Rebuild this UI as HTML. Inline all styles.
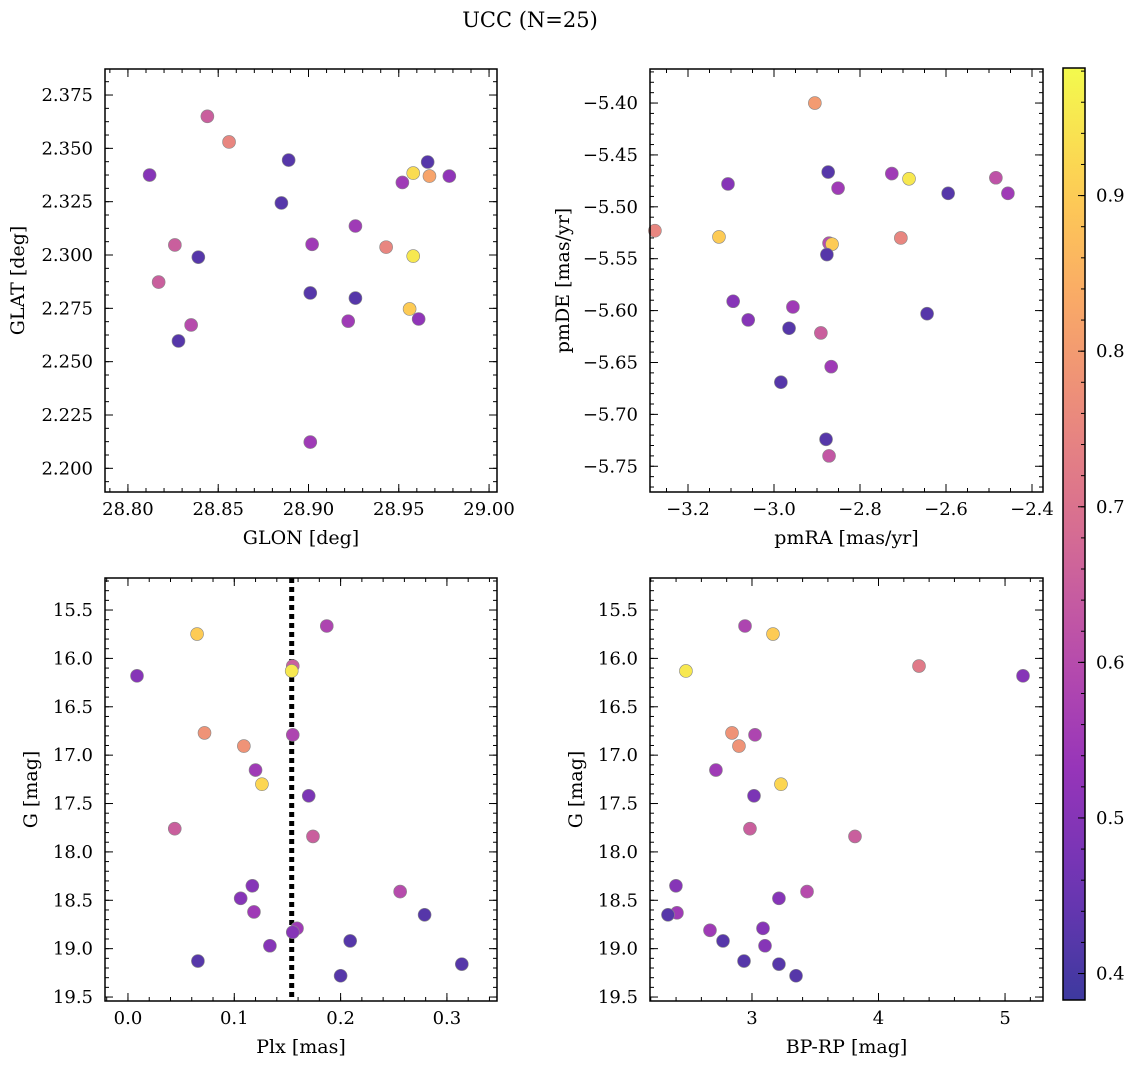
<!DOCTYPE html>
<html><head><meta charset="utf-8"><style>
html,body{margin:0;padding:0;background:#fff;}
svg{display:block;font-family:"DejaVu Serif","Liberation Serif",serif;}
</style></head><body>
<svg id="fig" width="1136" height="1068" viewBox="0 0 1136 1068" xmlns="http://www.w3.org/2000/svg">
<rect width="1136" height="1068" fill="#fff"/>
<text x="530" y="27" font-size="21" text-anchor="middle">UCC (N=25)</text>
</svg>
<script>
// ---- data ----
const glon=[28.844,28.856,28.812,28.889,28.885,28.966,28.958,28.967,28.978,28.952,28.926,28.902,28.826,28.943,28.839,28.958,28.817,28.901,28.926,28.956,28.961,28.922,28.835,28.828,28.901];
const glat=[2.365,2.353,2.3375,2.3445,2.3244,2.3436,2.3384,2.337,2.337,2.334,2.3136,2.305,2.3047,2.3037,2.299,2.2995,2.2873,2.2822,2.2798,2.2747,2.27,2.269,2.2672,2.2597,2.2123];
const probTL=[0.65,0.75,0.5,0.42,0.42,0.42,0.93,0.82,0.52,0.55,0.55,0.55,0.65,0.75,0.42,0.95,0.65,0.42,0.42,0.9,0.52,0.55,0.6,0.42,0.55];
const pmra=[-2.905,-2.874,-3.107,-2.851,-2.726,-2.686,-2.595,-2.484,-2.456,-3.277,-3.128,-2.705,-2.872,-2.865,-2.877,-3.095,-2.956,-3.060,-2.965,-2.644,-2.891,-2.867,-2.984,-2.879,-2.872];
const pmde=[-5.400,-5.4665,-5.478,-5.482,-5.468,-5.473,-5.487,-5.472,-5.487,-5.523,-5.529,-5.530,-5.535,-5.536,-5.546,-5.591,-5.5965,-5.609,-5.617,-5.603,-5.6215,-5.654,-5.669,-5.724,-5.740];
const probTR=[0.8,0.42,0.5,0.55,0.55,0.95,0.42,0.62,0.55,0.75,0.9,0.75,0.6,0.9,0.42,0.5,0.55,0.5,0.42,0.42,0.65,0.55,0.42,0.42,0.63];
const plx=[0.187,0.065,0.155,0.154,0.0085,0.155,0.072,0.109,0.120,0.126,0.170,0.044,0.174,0.117,0.256,0.106,0.1185,0.279,0.159,0.155,0.209,0.1335,0.0658,0.314,0.200];
const gBL=[15.665,15.748,16.079,16.13,16.18,16.79,16.77,16.906,17.154,17.30,17.42,17.76,17.84,18.35,18.41,18.48,18.62,18.65,18.79,18.83,18.92,18.97,19.128,19.16,19.28];
const probBL=[0.58,0.9,0.65,0.95,0.5,0.58,0.78,0.78,0.55,0.92,0.48,0.65,0.65,0.5,0.6,0.5,0.55,0.42,0.55,0.5,0.42,0.5,0.42,0.42,0.42];
const bprp=[2.945,3.166,2.478,4.320,5.142,2.842,3.024,2.897,2.715,3.229,3.016,2.984,3.814,2.399,3.213,3.435,2.407,2.336,2.668,3.087,2.771,3.103,2.937,3.213,3.348];
const gBR=[15.665,15.748,16.13,16.079,16.18,16.77,16.79,16.906,17.154,17.30,17.42,17.76,17.84,18.35,18.48,18.41,18.63,18.65,18.81,18.79,18.92,18.97,19.128,19.16,19.28];
const probBR=[0.58,0.9,0.95,0.72,0.5,0.78,0.58,0.78,0.55,0.92,0.48,0.65,0.65,0.5,0.5,0.6,0.55,0.42,0.55,0.5,0.42,0.5,0.42,0.42,0.42];
const plxLine=0.154;
const cbTicks=[0.4,0.5,0.6,0.7,0.8,0.9];

const NS="http://www.w3.org/2000/svg";
const svg=document.getElementById('fig');
function el(tag,attrs,parent){const e=document.createElementNS(NS,tag);for(const k in attrs)e.setAttribute(k,attrs[k]);(parent||svg).appendChild(e);return e;}
const stops=[[0,13,8,135],[0.125,75,3,161],[0.25,125,3,168],[0.375,168,34,150],[0.5,203,71,120],[0.625,229,107,93],[0.75,248,148,65],[0.875,253,195,40],[1,240,249,33]];
const cmin=0.383,cmax=0.982;
const ALPHA=0.8;
function plasma(v){let t=(v-cmin)/(cmax-cmin);t=Math.max(0,Math.min(1,t));
 let r=240,g=249,b=33;
 for(let i=1;i<stops.length;i++){if(t<=stops[i][0]){const a=stops[i-1],c=stops[i];const f=(t-a[0])/(c[0]-a[0]);
 r=a[1]+f*(c[1]-a[1]);g=a[2]+f*(c[2]-a[2]);b=a[3]+f*(c[3]-a[3]);break;}}
 const m=x=>Math.round(x*ALPHA+255*(1-ALPHA));
 return `rgb(${m(r)},${m(g)},${m(b)})`;}

function panel(o){
 const g=el('g',{}, svg);
 
 
 const sx=v=>o.x0+(v-o.xmin)/(o.xmax-o.xmin)*(o.x1-o.x0);
 const sy=v=>o.y0+(o.ymax-v)/(o.ymax-o.ymin)*(o.y1-o.y0);
 const eps=1e-9;
 function ticks(min,max,step){const r=[];for(let v=Math.ceil(min/step-eps)*step;v<=max+eps;v+=step)r.push(+v.toFixed(6));return r;}
 const tg=el('g',{stroke:'#000','stroke-width':1},g);
 for(const v of ticks(o.xmin,o.xmax,o.xminor)){const x=sx(v);el('line',{x1:x,x2:x,y1:o.y1,y2:o.y1-4},tg);el('line',{x1:x,x2:x,y1:o.y0,y2:o.y0+4},tg);}
 for(const v of ticks(o.ymin,o.ymax,o.yminor)){const y=sy(v);el('line',{x1:o.x0,x2:o.x0+4,y1:y,y2:y},tg);el('line',{x1:o.x1,x2:o.x1-4,y1:y,y2:y},tg);}
 for(const v of ticks(o.xmin,o.xmax,o.xmajor)){const x=sx(v);el('line',{x1:x,x2:x,y1:o.y1,y2:o.y1-8},tg);el('line',{x1:x,x2:x,y1:o.y0,y2:o.y0+8},tg);
  const t=el('text',{x:x,y:o.y1+23,'font-size':18,'text-anchor':'middle'},g);t.textContent=v.toFixed(o.xdec).replace('-','\u2212');
  
  }
 for(const v of ticks(o.ymin,o.ymax,o.ymajor)){const y=sy(v);el('line',{x1:o.x0,x2:o.x0+8,y1:y,y2:y},tg);el('line',{x1:o.x1,x2:o.x1-8,y1:y,y2:y},tg);
  const t=el('text',{x:o.x0-12,y:y+6,'font-size':18,'text-anchor':'end'},g);t.textContent=(o.neg?Math.abs(v):v).toFixed(o.ydec).replace('-','\u2212');
  
  }
 if(o.vline!==undefined){const l=el('line',{x1:sx(o.vline),x2:sx(o.vline),y1:o.y0,y2:o.y1,stroke:'#000','stroke-width':5,'stroke-dasharray':'5,4'},g);
  
  }
 for(let i=0;i<o.xs.length;i++){const c=el('circle',{cx:sx(o.xs[i]),cy:sy(o.ys[i]),r:6.5,fill:plasma(o.cs[i]),stroke:'#888','stroke-width':0.6},g);
  
  }
 const fr=el('rect',{x:o.x0,y:o.y0,width:o.x1-o.x0,height:o.y1-o.y0,fill:'none',stroke:'#000','stroke-width':1.5},g);
 
 
 const xl=el('text',{x:(o.x0+o.x1)/2,y:o.y1+52,'font-size':19,'text-anchor':'middle'},g);xl.textContent=o.xlabel;
 
 
 const yx=o.ylx, yy=(o.y0+o.y1)/2;
 const yl=el('text',{x:yx,y:yy,'font-size':19,'text-anchor':'middle',transform:`rotate(-90 ${yx} ${yy})`},g);yl.textContent=o.ylabel;
 
 
}
panel({name:'glon-glat-panel',x0:105,x1:497,y0:69,y1:492,xmin:28.7873,xmax:29.0044,ymin:2.1889,ymax:2.3872,xmajor:0.05,xminor:0.01,ymajor:0.025,yminor:0.00625,xdec:2,ydec:3,xs:glon,ys:glat,cs:probTL,xlabel:'GLON [deg]',ylabel:'GLAT [deg]',ylx:24});
panel({name:'pm-panel',x0:650,x1:1043,y0:69,y1:492,xmin:-3.2884,xmax:-2.3744,ymin:-5.7748,ymax:-5.3672,xmajor:0.2,xminor:0.05,ymajor:0.05,yminor:0.01,xdec:1,ydec:2,xs:pmra,ys:pmde,cs:probTR,xlabel:'pmRA [mas/yr]',ylabel:'pmDE [mas/yr]',ylx:569});
panel({name:'plx-g-panel',x0:105,x1:497,y0:578,y1:1001,xmin:-0.0216,xmax:0.3471,ymin:-19.541,ymax:-15.169,xmajor:0.1,xminor:0.02,ymajor:0.5,yminor:0.1,xdec:1,ydec:1,neg:true,xs:plx,ys:gBL.map(v=>-v),cs:probBL,xlabel:'Plx [mas]',ylabel:'G [mag]',ylx:37,vline:plxLine});
panel({name:'cmd-panel',x0:650,x1:1043,y0:578,y1:1001,xmin:2.194,xmax:5.300,ymin:-19.541,ymax:-15.169,xmajor:1,xminor:0.2,ymajor:0.5,yminor:0.1,xdec:0,ydec:1,neg:true,xs:bprp,ys:gBR.map(v=>-v),cs:probBR,xlabel:'BP-RP [mag]',ylabel:'G [mag]',ylx:582});
// colorbar
const cg=el('g',{},svg);


const defs=el('defs',{},svg);
const lg=el('linearGradient',{id:'cbg',x1:0,y1:1,x2:0,y2:0},defs);
for(let i=0;i<=20;i++){const v=cmin+(cmax-cmin)*i/20;el('stop',{offset:(i/20),'stop-color':plasma(v)},lg);}
const cb={x0:1063,x1:1085,y0:68,y1:1000};
const cy=v=>cb.y1-(v-cmin)/(cmax-cmin)*(cb.y1-cb.y0);
el('rect',{x:cb.x0,y:cb.y0,width:cb.x1-cb.x0,height:cb.y1-cb.y0,fill:'url(#cbg)',stroke:'#000','stroke-width':1.5},cg);
for(let v=0.4;v<=cmax;v+=0.02){const y=cy(v);el('line',{x1:cb.x1,x2:cb.x1-4,y1:y,y2:y,stroke:'#000'},cg);}
for(const v of cbTicks){const y=cy(v);el('line',{x1:cb.x1,x2:cb.x1-7,y1:y,y2:y,stroke:'#000'},cg);
 const t=el('text',{x:cb.x1+11,y:y+6,'font-size':18},cg);t.textContent=v.toFixed(1);
 
 }
</script>
</body></html>
